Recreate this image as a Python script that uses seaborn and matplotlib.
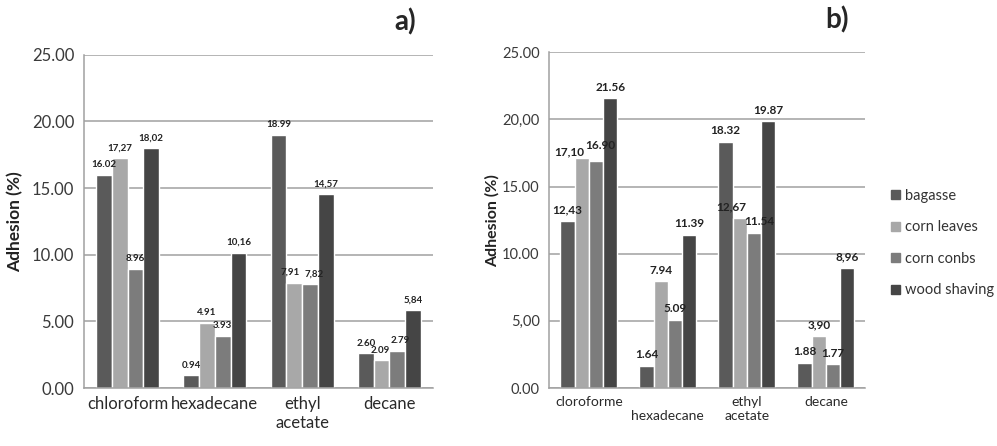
import pandas as pd
import numpy as np
import matplotlib
matplotlib.use("Agg")
import matplotlib.pyplot as plt
import matplotlib.ticker as mticker
import seaborn as sns

sns.set_style("white")
plt.rcParams['font.family'] = ['Lato', 'DejaVu Sans']

# data
materials = ['bagasse', 'corn leaves', 'corn conbs', 'wood shaving']
colors = ['#5a5a5a', '#a8a8a8', '#7c7c7c', '#454545']

solvents_a = ['chloroform', 'hexadecane', 'ethyl\nacetate', 'decane']
vals_a = {
    'bagasse':      [16.02, 0.94, 18.99, 2.60],
    'corn leaves':  [17.27, 4.91, 7.91, 2.09],
    'corn conbs':   [8.96, 3.93, 7.82, 2.79],
    'wood shaving': [18.02, 10.16, 14.57, 5.84],
}
labels_a = {
    'bagasse':      ['16.02', '0.94', '18.99', '2.60'],
    'corn leaves':  ['17,27', '4.91', '7,91', '2.09'],
    'corn conbs':   ['8.96', '3.93', '7,82', '2.79'],
    'wood shaving': ['18,02', '10,16', '14,57', '5,84'],
}
yticks_a = ['0.00', '5.00', '10.00', '15.00', '20.00', '25.00']

solvents_b = ['cloroforme', '\nhexadecane', 'ethyl\nacetate', 'decane']
vals_b = {
    'bagasse':      [12.43, 1.64, 18.32, 1.88],
    'corn leaves':  [17.10, 7.94, 12.67, 3.90],
    'corn conbs':   [16.90, 5.09, 11.54, 1.77],
    'wood shaving': [21.56, 11.39, 19.87, 8.96],
}
labels_b = {
    'bagasse':      ['12,43', '1.64', '18.32', '1.88'],
    'corn leaves':  ['17,10', '7.94', '12,67', '3,90'],
    'corn conbs':   ['16.90', '5.09', '11.54', '1.77'],
    'wood shaving': ['21.56', '11.39', '19.87', '8,96'],
}
yticks_b = ['0.00', '5,00', '10.00', '15.00', '20,00', '25.00']

# label nudges (points) where neighbouring labels would collide
nudge_a = {('corn leaves', 2): (-3, 0), ('corn conbs', 2): (3, 0),
           ('corn leaves', 3): (-1, 0), ('corn conbs', 3): (2, 0)}
nudge_b = {('corn leaves', 0): (-9, -3), ('corn conbs', 0): (3, 3),
           ('corn leaves', 2): (-6, 0), ('corn conbs', 2): (4, 0)}


def to_long(solvents, vals, labels):
    rows = []
    for m in materials:
        for s, v, t in zip(solvents, vals[m], labels[m]):
            rows.append({'solvent': s, 'material': m, 'adhesion': v, 'label': t})
    return pd.DataFrame(rows)


def draw_panel(ax, df, solvents, ytick_labels, nudge, tick_fs, lab_fs, ann_fs, ylab_fs):
    sns.barplot(data=df, x='solvent', y='adhesion', hue='material', order=solvents,
                hue_order=materials, palette=colors, width=0.72, gap=0,
                saturation=1, ax=ax, legend=False)
    for cont, m in zip(ax.containers, materials):
        sub = df[df['material'] == m].set_index('solvent').loc[solvents]
        for i, (bar, txt) in enumerate(zip(cont.patches, sub['label'])):
            dx, dy = nudge.get((m, i), (0, 0))
            ax.annotate(txt, (bar.get_x() + bar.get_width() / 2, bar.get_height()),
                        xytext=(dx, 4 + dy), textcoords='offset points',
                        ha='center', va='bottom', fontsize=ann_fs,
                        fontweight='bold', color='#222222')
    ax.set_ylim(0, 25)
    ax.set_xlim(-0.5, 3.5)
    ax.yaxis.set_major_locator(mticker.FixedLocator([0, 5, 10, 15, 20, 25]))
    ax.yaxis.set_major_formatter(mticker.FixedFormatter(ytick_labels))
    ax.grid(axis='y', color='#a0a0a0', linewidth=1.1)
    ax.set_axisbelow(True)
    for sp in ['top', 'right']:
        ax.spines[sp].set_visible(False)
    for sp in ['left', 'bottom']:
        ax.spines[sp].set_color('#a0a0a0')
        ax.spines[sp].set_linewidth(1.1)
    ax.tick_params(axis='y', length=4, width=1.1, color='#a0a0a0', labelsize=tick_fs,
                   labelcolor='#3a3a3a', pad=3)
    ax.tick_params(axis='x', which='major', length=0, labelsize=lab_fs,
                   labelcolor='#2a2a2a', pad=6)
    ax.xaxis.set_minor_locator(mticker.FixedLocator([-0.5, 0.5, 1.5, 2.5, 3.5]))
    ax.tick_params(axis='x', which='minor', length=5, color='#a0a0a0', width=1.1)
    ax.set_xlabel('')
    ax.set_ylabel('Adhesion (%)', fontsize=ylab_fs, fontweight='bold', color='#222222')


fig = plt.figure(figsize=(9.97, 4.46), dpi=100)
ax1 = fig.add_axes([0.0843, 0.130, 0.350, 0.747])
ax2 = fig.add_axes([0.551, 0.130, 0.317, 0.753])

draw_panel(ax1, to_long(solvents_a, vals_a, labels_a), solvents_a, yticks_a, nudge_a,
           12, 12, 7, 12.5)
draw_panel(ax2, to_long(solvents_b, vals_b, labels_b), solvents_b, yticks_b, nudge_b,
           10.5, 10, 8.5, 11.5)
ax1.yaxis.labelpad = 6
ax2.yaxis.labelpad = 2

fig.text(0.406, 0.952, 'a)', fontsize=20, fontweight='bold', ha='center', va='center')
fig.text(0.840, 0.955, 'b)', fontsize=20, fontweight='bold', ha='center', va='center')

handles = [plt.Rectangle((0, 0), 1, 1, color=c) for c in colors]
leg = fig.legend(handles, materials, loc='center left', bbox_to_anchor=(0.881, 0.455),
                 frameon=False, fontsize=10.5, handlelength=0.6, handleheight=0.6,
                 handletextpad=0.3, labelspacing=1.2)
for t in leg.get_texts():
    t.set_color('#333333')

fig.savefig('out.png', dpi=100)
